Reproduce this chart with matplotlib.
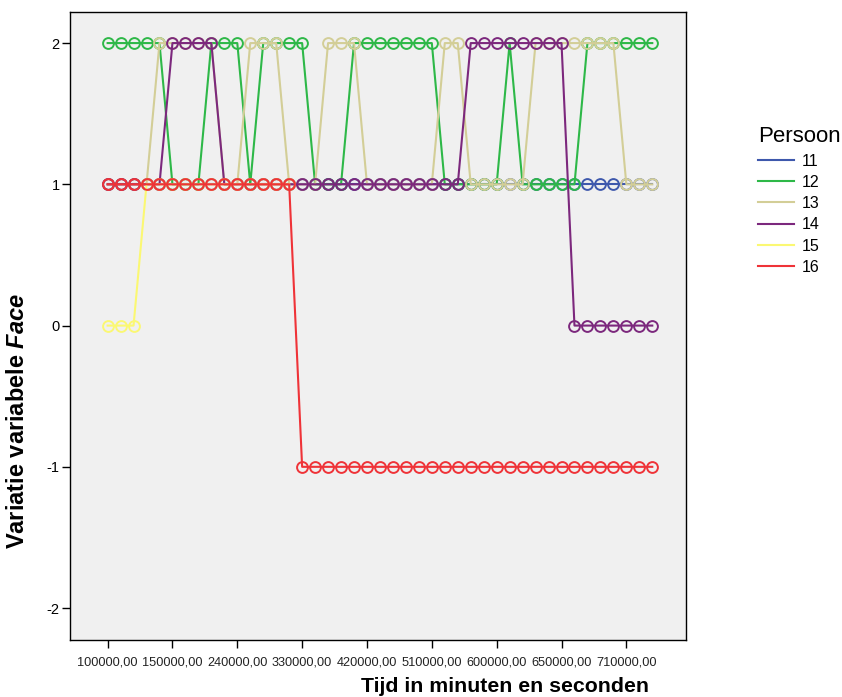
import matplotlib
matplotlib.use('Agg')
import matplotlib.pyplot as plt
import numpy as np

plt.rcParams['font.family'] = ['Liberation Sans', 'DejaVu Sans']
plt.rcParams['mathtext.fontset'] = 'custom'
plt.rcParams['mathtext.it'] = 'Liberation Sans:italic:bold'

nan = np.nan

# 43 time points, only every 5th one gets a label on the axis
tick_pos = [0, 5, 10, 15, 20, 25, 30, 35, 40]
tick_labels = ['100000,00', '150000,00', '240000,00', '330000,00', '420000,00',
               '510000,00', '600000,00', '650000,00', '710000,00']

persoon = ['11', '12', '13', '14', '15', '16']
kleuren = ['#3E58AC', '#2EB848', '#D3CE97', '#7C287D', '#FBF873', '#EF3338']

p11 = [1, 1, 1, 1, 1, 1, 1, 1, 1, 1, 1, 1, 1, 1, 1, 1, 1, 1, 1, 1, 1, 1,
       1, 1, 1, 1, 1, 1, 1, 1, 1, 1, 1, 1, 1, 1, 1, 1, 1, 1, 1, 1, 1]
p12 = [2, 2, 2, 2, 2, 1, 1, 1, 2, 2, 2, 1, 2, 2, 2, 2, 1, 1, 1, 2, 2, 2,
       2, 2, 2, 2, 1, 1, 1, 1, 1, 2, 1, 1, 1, 1, 1, 2, 2, 2, 2, 2, 2]
p13 = [1, 1, 1, 1, 2, 2, 2, 2, 2, 1, 1, 2, 2, 2, 1, 1, 1, 2, 2, 2, 1, 1,
       1, 1, 1, 1, 2, 2, 1, 1, 1, 1, 1, 2, 2, 2, 2, 2, 2, 2, 1, 1, 1]
p14 = [1, 1, 1, 1, 1, 2, 2, 2, 2, 1, 1, 1, 1, 1, 1, 1, 1, 1, 1, 1, 1, 1,
       1, 1, 1, 1, 1, 1, 2, 2, 2, 2, 2, 2, 2, 2, 0, 0, 0, 0, 0, 0, 0]
p15 = [0, 0, 0, 1, 1, 1, 1, 1, 1, 1, 1, 1, 1, 1, 1, nan, nan, nan, nan, nan, nan, nan,
       nan, nan, nan, nan, nan, nan, nan, nan, nan, nan, nan, nan, nan, nan, nan, nan, nan, nan, nan, nan, nan]
p16 = [1, 1, 1, 1, 1, 1, 1, 1, 1, 1, 1, 1, 1, 1, 1, -1, -1, -1, -1, -1, -1, -1,
       -1, -1, -1, -1, -1, -1, -1, -1, -1, -1, -1, -1, -1, -1, -1, -1, -1, -1, -1, -1, -1]
reeksen = [p11, p12, p13, p14, p15, p16]

fig = plt.figure(figsize=(8.42, 6.97), dpi=100)
ax = fig.add_axes([70/842, 57/697, 616/842, 628/697])
ax.set_facecolor('#F0F0F0')

x = np.arange(len(p11))
for naam, kleur, y in zip(persoon, kleuren, reeksen):
    ax.plot(x, y, color=kleur, lw=1.5, label=naam)
    ax.plot(x, y, ls='none', marker='o', ms=7.8, mfc='none', mec=kleur, mew=1.4)

ax.set_xlim(-2.9, 44.6)
ax.set_ylim(-2.226, 2.22)
ax.set_xticks(tick_pos)
ax.set_xticklabels(tick_labels, fontsize=9.2, color='#222222')
ax.set_yticks([-2, -1, 0, 1, 2])
ax.set_yticklabels(['-2', '-1', '0', '1', '2'], fontsize=10.5)
ax.tick_params(direction='out', length=6, width=1)
ax.tick_params(axis='x', pad=6)
ax.tick_params(axis='y', pad=1.5)
for s in ax.spines.values():
    s.set_linewidth(1)

fig.text(505/842, 1 - 686/697, 'Tijd in minuten en seconden', ha='center', va='center',
         fontsize=15.3, fontweight='bold')
fig.text(18/842, 1 - 421/697, r'Variatie variabele $\mathit{Face}$', ha='center', va='center',
         rotation=90, fontsize=17, fontweight='bold')

ax.legend(loc='upper left', bbox_to_anchor=(752/842, 1 - 120/697), bbox_transform=fig.transFigure,
          frameon=False, title='Persoon', title_fontsize=16, fontsize=11.5, alignment='left',
          handlelength=2.2, handletextpad=0.5, labelspacing=0.39, borderaxespad=0)

fig.savefig('out.png', dpi=100)
